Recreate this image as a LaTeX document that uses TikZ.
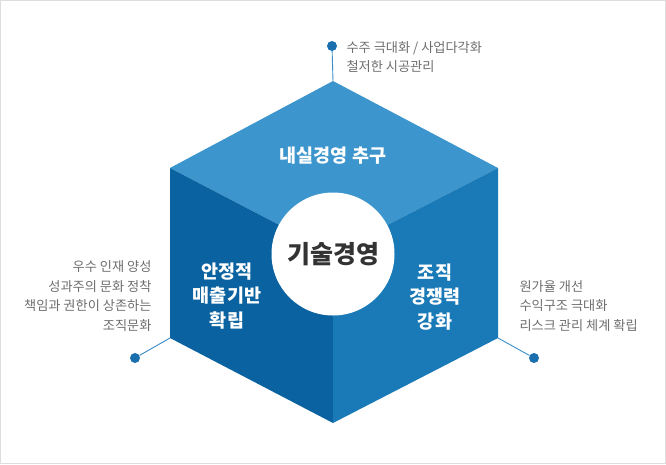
\documentclass[tikz,border=0pt]{standalone}
\usepackage{fontspec}
\setmainfont{Noto Sans CJK KR}
\usepackage{xcolor}
\usetikzlibrary{positioning}
\definecolor{topface}{HTML}{3C95CC}
\definecolor{leftface}{HTML}{0A63A0}
\definecolor{rightface}{HTML}{1A7AB7}
\definecolor{pinblue}{HTML}{1B6FAE}
\definecolor{leadblue}{HTML}{3A8CC8}
\definecolor{notegray}{HTML}{6E6E6E}
\definecolor{framegray}{HTML}{DDDDDD}

\begin{document}
\begin{tikzpicture}[x=1pt,y=-1pt,
 face/.style={font=\fontsize{18.5}{24.5}\selectfont\bfseries,text=white,align=center},
 note/.style={font=\fontsize{13.2}{19.8}\selectfont,text=notegray},
 pin/.style={circle,fill=pinblue,inner sep=0pt,minimum size=10pt},
 lead/.style={draw=leadblue,line width=0.9pt}]
\useasboundingbox (0,0) rectangle (666,464);
\draw[framegray,line width=1.2pt] (0.6,0.6) rectangle (665.4,463.4);
\coordinate (hTop) at (333,81);
\coordinate (hUL) at (170,168);
\coordinate (hUR) at (498,168);
\coordinate (hLL) at (170,338);
\coordinate (hLR) at (498,338);
\coordinate (hBot) at (333,423);
\coordinate (hMid) at (333,253);
\fill[topface] (hTop) -- (hUR) -- (hMid) -- (hUL) -- cycle;
\fill[leftface] (hUL) -- (hMid) -- (hBot) -- (hLL) -- cycle;
\fill[rightface] (hUR) -- (hLR) -- (hBot) -- (hMid) -- cycle;
\node[circle,fill=white,minimum size=123pt,inner sep=0pt,font=\fontsize{25}{28}\selectfont\bfseries,text=black!80] (core) at (333,254) {기술경영};
\node[face] (fTop) at (333,156) {내실경영 추구};
\node[face] (fLeft) at (227,296) {안정적\\매출기반\\확립};
\node[face] (fRight) at (435,297) {조직\\경쟁력\\강화};
\node[pin] (pTop) at (332,46) {};
\node[pin] (pLeft) at (135,358) {};
\node[pin] (pRight) at (534,358) {};
\draw[lead] (pTop) -- (hTop);
\draw[lead] (pLeft) -- (hLL);
\draw[lead] (pRight) -- (hLR);
\node[note,align=left,anchor=west] (nTop) at (343,57) {수주 극대화 / 사업다각화\\철저한 시공관리};
\node[note,align=right,anchor=east] (nLeft) at (155,296) {우수 인재 양성\\성과주의 문화 정착\\책임과 권한이 상존하는\\조직문화};
\node[note,align=left,anchor=west] (nRight) at (516,306) {원가율 개선\\수익구조 극대화\\리스크 관리 체계 확립};
\end{tikzpicture}
\end{document}
